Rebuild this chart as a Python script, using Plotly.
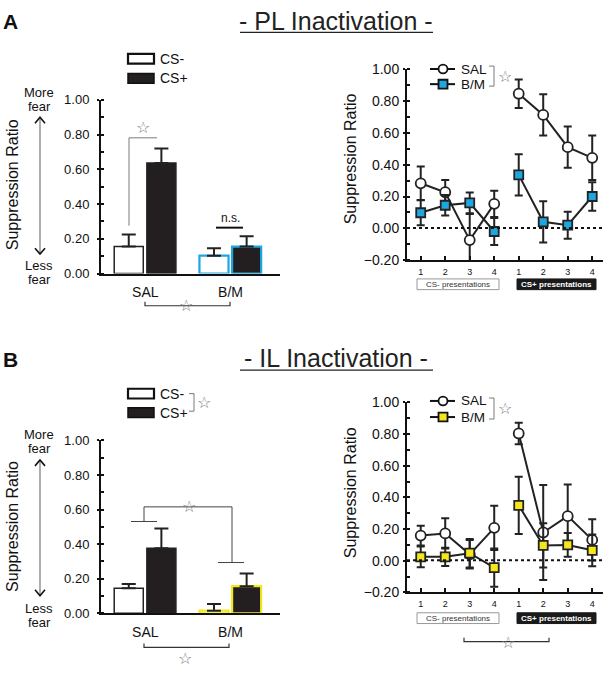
import plotly.graph_objects as go

W, H = 605, 674
FONT = "Liberation Sans, Arial, Helvetica, sans-serif"
BLUE = "#1ea6e0"
YELLOW = "#f4e81a"
GRAY = "#7a7a7a"

# ---------------- data ----------------
groups = ["SAL", "B/M"]
group_x = [0, 1]

# Panel A (PL inactivation) bar chart
A_csminus = [0.155, 0.103]
A_csminus_err = [0.069, 0.043]
A_csplus = [0.636, 0.155]
A_csplus_err = [0.084, 0.060]

# Panel B (IL inactivation) bar chart
B_csminus = [0.145, 0.015]
B_csminus_err = [0.025, 0.038]
B_csplus = [0.377, 0.157]
B_csplus_err = [0.113, 0.073]

# Trial-by-trial (CS- 1-4, CS+ 1-4)
trial_x = [1, 2, 3, 4, 5, 6, 7, 8]
trial_labels = ["1", "2", "3", "4", "1", "2", "3", "4"]

A_sal = [0.283, 0.227, -0.074, 0.154, 0.846, 0.713, 0.510, 0.443]
A_sal_err = [0.105, 0.076, 0.164, 0.083, 0.090, 0.130, 0.130, 0.140]
A_bm = [0.098, 0.145, 0.160, -0.020, 0.336, 0.041, 0.020, 0.200]
A_bm_err = [0.078, 0.065, 0.065, 0.085, 0.130, 0.130, 0.085, 0.090]

B_sal = [0.159, 0.173, 0.041, 0.208, 0.804, 0.179, 0.282, 0.132]
B_sal_err = [0.062, 0.095, 0.090, 0.140, 0.068, 0.300, 0.200, 0.130]
B_bm = [0.025, 0.025, 0.048, -0.043, 0.350, 0.097, 0.100, 0.066]
B_bm_err = [0.065, 0.058, 0.090, 0.120, 0.180, 0.140, 0.075, 0.100]


def px(x):
    return x / W


def py(y):
    return 1 - y / H


fig = go.Figure()

# ---------------- bar charts ----------------
bar_w = 0.341


def add_bars(xa, ya, csm, csm_err, csp, csp_err, accent):
    fig.add_trace(go.Bar(
        x=group_x, y=csm, width=bar_w, offset=-0.365,
        marker=dict(color="white", line=dict(color=["#222222", accent], width=[1.5, 2.2])),
        error_y=dict(type="data", symmetric=False, array=csm_err, arrayminus=[0, 0],
                     color="#222222", thickness=2, width=7),
        xaxis=xa, yaxis=ya, showlegend=False, hoverinfo="skip"))
    fig.add_trace(go.Bar(
        x=group_x, y=csp, width=bar_w, offset=0.018,
        marker=dict(color="#231f20", line=dict(color=["#222222", accent], width=[1.5, 2.2])),
        error_y=dict(type="data", symmetric=False, array=csp_err, arrayminus=[0, 0],
                     color="#222222", thickness=2, width=7),
        xaxis=xa, yaxis=ya, showlegend=False, hoverinfo="skip"))


add_bars("x", "y", A_csminus, A_csminus_err, A_csplus, A_csplus_err, BLUE)
add_bars("x3", "y3", B_csminus, B_csminus_err, B_csplus, B_csplus_err, YELLOW)


# ---------------- line charts ----------------
def add_lines(xa, ya, sal, sal_err, bm, bm_err, color):
    for seg in (slice(0, 4), slice(4, 8)):
        fig.add_trace(go.Scatter(
            x=trial_x[seg], y=sal[seg], mode="lines+markers",
            line=dict(color="#222222", width=2),
            marker=dict(symbol="circle", size=10, color="white", line=dict(color="#222222", width=1.8)),
            error_y=dict(type="data", array=sal_err[seg], color="#222222", thickness=2, width=4),
            xaxis=xa, yaxis=ya, showlegend=False, hoverinfo="skip"))
    for seg in (slice(0, 4), slice(4, 8)):
        fig.add_trace(go.Scatter(
            x=trial_x[seg], y=bm[seg], mode="lines+markers",
            line=dict(color="#222222", width=2),
            marker=dict(symbol="square", size=9, color=color, line=dict(color="#222222", width=1.8)),
            error_y=dict(type="data", array=bm_err[seg], color="#222222", thickness=2, width=4),
            xaxis=xa, yaxis=ya, showlegend=False, hoverinfo="skip"))


add_lines("x2", "y2", A_sal, A_sal_err, A_bm, A_bm_err, BLUE)
add_lines("x4", "y4", B_sal, B_sal_err, B_bm, B_bm_err, YELLOW)

# ---------------- axes ----------------
tickfont_bar = dict(family=FONT, size=13, color="#111111")
tickfont_line = dict(family=FONT, size=14, color="#111111")

bar_x = dict(range=[-0.52, 1.58], tickvals=group_x, ticktext=groups, ticks="",
             showline=True, linecolor="#111111", linewidth=2, showgrid=False, zeroline=False,
             tickfont=dict(family=FONT, size=14, color="#111111"), ticklabelstandoff=5,
             fixedrange=True)
bar_y = dict(range=[0, 1.0], tickvals=[0, 0.2, 0.4, 0.6, 0.8, 1.0], tickformat=".2f",
             ticks="outside", ticklen=2, tickwidth=1.5, tickcolor="#111111",
             minor=dict(dtick=0.1, ticks="inside", ticklen=3, tickwidth=1.5, tickcolor="#111111"),
             showline=True, linecolor="#111111", linewidth=2, showgrid=False, zeroline=False,
             tickfont=tickfont_bar, ticklabelstandoff=5, fixedrange=True)
line_x = dict(range=[0.44, 8.44], tickvals=trial_x, ticktext=trial_labels,
              ticks="inside", ticklen=4, tickwidth=1.5, tickcolor="#111111",
              showline=True, linecolor="#111111", linewidth=2, showgrid=False, zeroline=False,
              tickfont=dict(family=FONT, size=9, color="#111111"), ticklabelstandoff=2,
              fixedrange=True)
line_y = dict(range=[-0.2, 1.0], tickvals=[-0.2, 0, 0.2, 0.4, 0.6, 0.8, 1.0], tickformat=".2f",
              ticks="outside", ticklen=2, tickwidth=1.5, tickcolor="#111111",
              minor=dict(dtick=0.1, ticks="inside", ticklen=3, tickwidth=1.5, tickcolor="#111111"),
              showline=True, linecolor="#111111", linewidth=2, showgrid=False, zeroline=False,
              tickfont=tickfont_line, ticklabelstandoff=1, fixedrange=True)

fig.update_layout(
    xaxis=dict(bar_x, domain=[px(101), px(280)], anchor="y"),
    yaxis=dict(bar_y, domain=[py(272), py(94)], anchor="x"),
    xaxis2=dict(line_x, domain=[px(407), px(603)], anchor="y2"),
    yaxis2=dict(line_y, domain=[py(258.3), py(62.7)], anchor="x2"),
    xaxis3=dict(bar_x, domain=[px(101), px(280)], anchor="y3"),
    yaxis3=dict(bar_y, domain=[py(620), py(443)], anchor="x3"),
    xaxis4=dict(line_x, domain=[px(407), px(603)], anchor="y4"),
    yaxis4=dict(line_y, domain=[py(598.7), py(404)], anchor="x4"),
)

# ---------------- decorations ----------------
shapes = []
annotations = []


def line(x0, y0, x1, y1, color="#111111", width=1, dash=None):
    ln = dict(color=color, width=width)
    if dash:
        ln["dash"] = dash
    shapes.append(dict(type="line", xref="paper", yref="paper",
                       x0=px(x0), y0=py(y0), x1=px(x1), y1=py(y1), line=ln))


def path(d, color="#111111", width=1):
    shapes.append(dict(type="path", xref="paper", yref="paper", path=d,
                       line=dict(color=color, width=width), fillcolor="rgba(0,0,0,0)"))


def pth(points):
    return "M " + " L ".join(f"{px(x)},{py(y)}" for x, y in points)


def rect(x0, y0, x1, y1, fill, color="#111111", width=1.5):
    shapes.append(dict(type="rect", xref="paper", yref="paper",
                       x0=px(x0), y0=py(y1), x1=px(x1), y1=py(y0),
                       fillcolor=fill, line=dict(color=color, width=width)))


def text(x, y, s, size=13, color="#111111", xanchor="center", bold=False, angle=0, family=FONT):
    annotations.append(dict(xref="paper", yref="paper", x=px(x), y=py(y), text=s,
                            showarrow=False, xanchor=xanchor, yanchor="middle", textangle=angle,
                            font=dict(family=family, size=size, color=color,
                                      weight="bold" if bold else "normal")))


STAR = "☆"
STAR_SIZE = 16

for title, letter, dy in [("- PL Inactivation -", "A", 0), ("- IL Inactivation -", "B", 346)]:
    text(10, 14 + dy, letter, size=21, bold=True)
    text(336, 13 + dy, title, size=25, color="#222222")
    line(240, 25 + dy, 433, 25 + dy, color="#222222", width=1.2)

# zero dotted lines
for y0px in (225.3, 565.7):
    line(407, y0px, 603, y0px, color="#111111", width=2, dash="dot")

# ---- left bar charts: y titles, arrows, fear labels, legends
for ytitle_c, more_y, arr_top, arr_bot, less_y in [
        (181, 87, 112, 252, 264),
        (531, 437, 463, 602, 615)]:
    text(12.5, ytitle_c, "Suppression Ratio", size=16, angle=-90)
    text(39, more_y, "More", size=13)
    text(39, more_y + 14, "fear", size=13)
    text(39, less_y, "Less", size=13)
    text(39, less_y + 14, "fear", size=13)
    line(40, arr_top + 1, 40, arr_bot - 1, color="#777777", width=1.2)
    path(pth([(35, arr_top + 6), (40, arr_top), (45, arr_top + 6)]), color="#111111", width=1.6)
    path(pth([(35, arr_bot - 6), (40, arr_bot), (45, arr_bot - 6)]), color="#111111", width=1.6)

# legends left
for y1, y2 in [(52, 72), (395, 414.5)]:
    rect(128, y1 - 5, 154, y1 + 5, "white", width=2.2)
    rect(128, y2 - 5, 154, y2 + 5, "#231f20", width=1.5)
    text(158, y1, "CS-", size=14, xanchor="left")
    text(158, y2, "CS+", size=14, xanchor="left")
# B legend significance bracket
path(pth([(189, 395), (194, 395), (194, 413), (189, 413)]), color=GRAY, width=1)
text(204, 404, STAR, size=STAR_SIZE, color=GRAY)

# A left significance
path(pth([(129, 223), (129, 133), (157, 133)]), color=GRAY, width=1)
text(143, 122, STAR, size=STAR_SIZE, color=GRAY)
line(216, 225, 243, 225, color="#111111", width=2)
text(230, 215, "n.s.", size=12)
# A bottom bracket
path(pth([(145, 301), (145, 305), (230, 305), (230, 301)]), color="#333333", width=1.2)
text(186, 305, STAR, size=STAR_SIZE, color=GRAY)

# B left significance
line(131, 526, 157, 526, color="#444444", width=1)
path(pth([(144, 526), (144, 511), (232, 511), (232, 568)]), color="#444444", width=1)
line(218, 568, 244, 568, color="#444444", width=1)
text(189, 511, STAR, size=STAR_SIZE, color=GRAY)
# B bottom bracket
path(pth([(144, 651), (144, 655), (229, 655), (229, 651)]), color="#333333", width=1.2)
text(185, 666, STAR, size=STAR_SIZE, color=GRAY)

# ---- right panels
for ytitle_c, sal_y, bm_y, boxy in [(155, 62.5, 78, 283), (497, 402.5, 419, 625)]:
    text(350, ytitle_c, "Suppression Ratio", size=16, angle=-90)
    line(430, sal_y, 455, sal_y, color="#111111", width=2)
    line(430, bm_y, 455, bm_y, color="#111111", width=2)
    shapes.append(dict(type="circle", xref="paper", yref="paper",
                       x0=px(438.5), y0=py(sal_y + 4.5), x1=px(447.5), y1=py(sal_y - 4.5),
                       fillcolor="white", line=dict(color="#111111", width=1.8)))
    text(459, sal_y, "SAL", size=13.5, xanchor="left")
    text(459, bm_y, "B/M", size=13.5, xanchor="left")
    path(pth([(489, sal_y - 3), (494, sal_y - 3), (494, bm_y + 2), (489, bm_y + 2)]), color=GRAY, width=1)
    text(505, (sal_y + bm_y) / 2, STAR, size=STAR_SIZE, color=GRAY)
    rect(417, boxy - 5.5, 499, boxy + 5.5, "white", color="#999999", width=1)
    rect(517, boxy - 5.5, 596, boxy + 5.5, "#1a1a1a", color="#1a1a1a", width=1)
    text(458, boxy, "CS- presentations", size=8, color="#333333")
    text(556.5, boxy, "<b>CS+ presentations</b>", size=8, color="white")
    # B/M legend square
    rect(438.5, bm_y - 4.5, 447.5, bm_y + 4.5, BLUE if boxy < 400 else YELLOW, width=1.8)

# B right bottom bracket
path(pth([(464, 645), (464, 649), (549, 649), (549, 645)]), color="#333333", width=1.2)
text(508, 650, STAR, size=STAR_SIZE, color=GRAY)

fig.update_layout(
    width=W, height=H, autosize=False,
    margin=dict(l=0, r=0, t=0, b=0),
    paper_bgcolor="white", plot_bgcolor="white",
    showlegend=False, barmode="overlay",
    shapes=shapes, annotations=annotations,
    font=dict(family=FONT, color="#111111"),
)

fig.write_html("out.html", config={"displayModeBar": False},
               post_script=["document.body.style.margin='0';document.body.style.overflow='hidden';"])
